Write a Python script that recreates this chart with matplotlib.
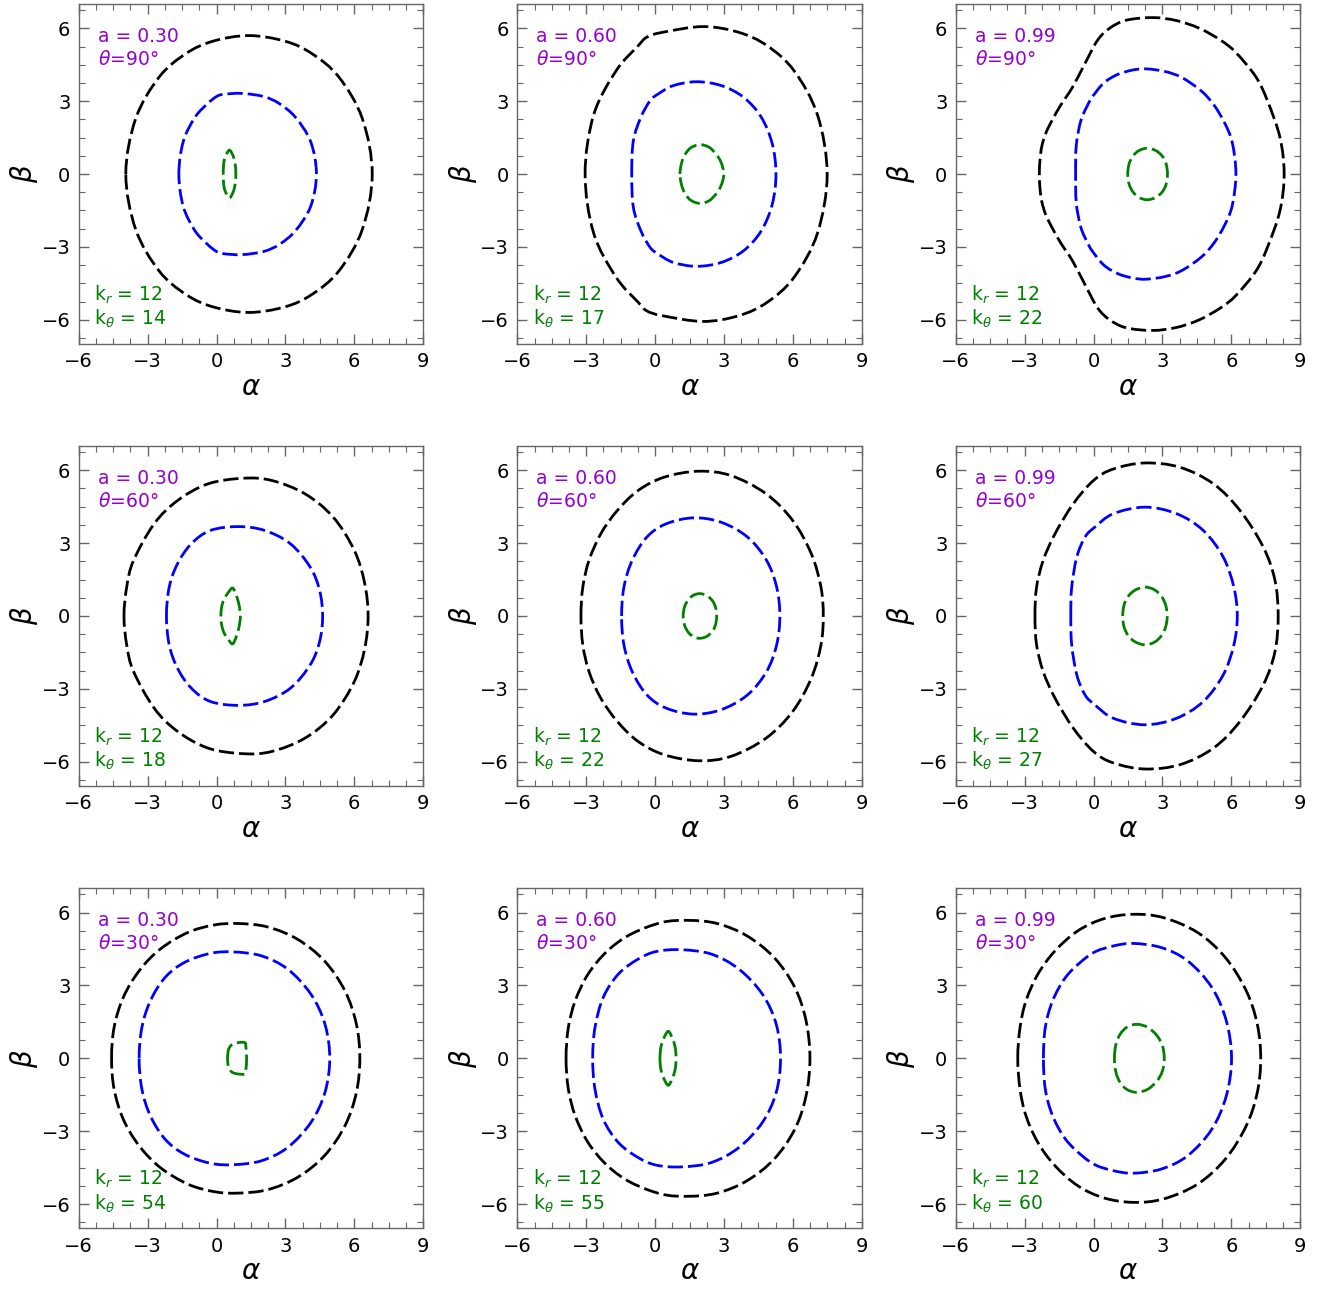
import matplotlib
matplotlib.use("Agg")
import matplotlib.pyplot as plt
from matplotlib.path import Path
from matplotlib.patches import PathPatch
import numpy as np

# Upper halves (beta >= 0) of each shadow outline,
# traced from the left end over the top to the right end.  Lower half = mirror.

spins = ["0.30", "0.60", "0.99"]
thetas = ["90", "60", "30"]
k_theta = [[14, 17, 22], [18, 22, 27], [54, 55, 60]]
k_r = 12

# ---- theta = 90 ----
a30_t90_black_x = [-3.95, -3.52, -2.50, -1.33, -0.15, 1.40, 2.98, 4.15, 5.33, 6.35, 6.78]
a30_t90_black_y = [0.0, 2.28, 3.99, 4.96, 5.47, 5.70, 5.47, 4.96, 3.99, 2.28, 0.0]
a30_t90_blue_x = [-1.64, -1.45, -0.95, -0.40, 0.00, 0.30, 1.10, 2.05, 2.75, 3.45, 4.10, 4.35]
a30_t90_blue_y = [0.0, 1.33, 2.32, 2.89, 3.19, 3.28, 3.32, 3.19, 2.89, 2.32, 1.33, 0.0]
a30_t90_green_x = [0.29, 0.33, 0.45, 0.58, 0.74, 0.82, 0.84]
a30_t90_green_y = [0.0, 0.55, 0.85, 0.98, 0.70, 0.35, 0.0]

a60_t90_black_x = [-3.05, -2.68, -1.70, -0.74, -0.37, 0.30, 2.09, 3.65, 4.88, 6.05, 7.07, 7.49]
a60_t90_black_y = [0.0, 2.43, 4.25, 5.28, 5.63, 5.83, 6.07, 5.83, 5.28, 4.25, 2.43, 0.0]
a60_t90_blue_x = [-1.02, -0.95, -0.62, -0.22, 0.14, 0.79, 1.80, 2.88, 3.85, 4.62, 5.10, 5.26]
a60_t90_blue_y = [0.0, 1.37, 2.34, 3.02, 3.30, 3.64, 3.80, 3.64, 3.16, 2.34, 1.24, 0.0]
a60_t90_green_x = [1.08, 1.15, 1.30, 1.55, 1.95, 2.35, 2.65, 2.87, 2.99]
a60_t90_green_y = [0.0, 0.45, 0.80, 1.08, 1.21, 1.10, 0.82, 0.48, 0.0]

a99_t90_black_x = [-2.36, -2.33, -2.25, -2.07, -1.78, -1.42, -0.93, -0.40, 0.17, 0.70, 1.42, 2.57, 3.60, 4.61, 5.55, 6.20, 7.07, 7.58, 8.12, 8.30]
a99_t90_black_y = [0.0, 0.60, 1.15, 1.70, 2.25, 2.85, 3.55, 4.50, 5.50, 6.00, 6.33, 6.44, 6.32, 6.00, 5.50, 5.00, 4.00, 3.00, 1.50, 0.0]
a99_t90_blue_x = [-0.78, -0.75, -0.55, -0.25, -0.04, 0.45, 1.05, 1.70, 2.29, 3.12, 3.85, 4.68, 5.23, 5.70, 6.04, 6.20]
a99_t90_blue_y = [0.0, 1.20, 2.20, 2.85, 3.19, 3.75, 4.10, 4.28, 4.33, 4.22, 3.97, 3.43, 2.86, 2.12, 1.30, 0.0]
a99_t90_green_x = [1.49, 1.55, 1.72, 1.97, 2.32, 2.70, 2.99, 3.16, 3.22]
a99_t90_green_y = [0.0, 0.42, 0.74, 0.96, 1.06, 0.97, 0.74, 0.42, 0.0]

# ---- theta = 60 ----
a30_t60_black_x = [-4.03, -3.91, -3.62, -2.72, -1.70, -0.37, 1.16, 2.40, 3.85, 5.08, 6.00, 6.45, 6.60]
a30_t60_black_y = [0.0, 1.20, 2.27, 3.79, 4.75, 5.44, 5.67, 5.58, 5.03, 4.07, 2.70, 1.35, 0.0]
a30_t60_blue_x = [-2.18, -2.06, -1.70, -1.10, -0.27, 0.94, 2.10, 3.22, 4.08, 4.49, 4.62]
a30_t60_blue_y = [0.0, 1.19, 2.15, 2.97, 3.52, 3.68, 3.52, 2.97, 2.01, 1.05, 0.0]
a30_t60_green_x = [0.19, 0.22, 0.32, 0.50, 0.70, 0.86, 0.98, 1.04]
a30_t60_green_y = [0.0, 0.35, 0.68, 0.95, 1.15, 0.85, 0.45, 0.0]

a60_t60_black_x = [-3.23, -3.15, -2.88, -2.37, -1.65, -0.75, 0.38, 1.88, 3.30, 4.83, 5.99, 6.80, 7.22, 7.32]
a60_t60_black_y = [0.0, 1.19, 2.29, 3.38, 4.34, 5.16, 5.71, 5.96, 5.78, 5.03, 3.93, 2.56, 1.19, 0.0]
a60_t60_blue_x = [-1.46, -1.36, -1.00, -0.36, 0.47, 1.66, 2.87, 4.02, 4.85, 5.29, 5.43]
a60_t60_blue_y = [0.0, 1.19, 2.29, 3.25, 3.79, 4.04, 3.86, 3.25, 2.29, 1.19, 0.0]
a60_t60_green_x = [1.22, 1.28, 1.45, 1.68, 1.95, 2.25, 2.50, 2.63, 2.68]
a60_t60_green_y = [0.0, 0.38, 0.68, 0.86, 0.92, 0.84, 0.62, 0.35, 0.0]

a99_t60_black_x = [-2.55, -2.48, -2.19, -1.68, -0.88, 0.00, 0.86, 2.24, 3.77, 5.22, 6.38, 7.39, 7.90, 8.04]
a99_t60_black_y = [0.0, 1.19, 2.29, 3.38, 4.62, 5.58, 6.05, 6.30, 6.12, 5.44, 4.34, 2.84, 1.47, 0.0]
a99_t60_blue_x = [-0.99, -0.95, -0.73, -0.37, 0.06, 0.86, 2.24, 3.62, 4.78, 5.65, 6.11, 6.26]
a99_t60_blue_y = [0.0, 1.19, 2.42, 3.25, 3.66, 4.21, 4.48, 4.21, 3.52, 2.42, 1.19, 0.0]
a99_t60_green_x = [1.27, 1.33, 1.52, 1.82, 2.24, 2.65, 2.95, 3.14, 3.21]
a99_t60_green_y = [0.0, 0.45, 0.82, 1.07, 1.19, 1.08, 0.82, 0.45, 0.0]

# ---- theta = 30 ----
a30_t30_black_x = [-4.57, -4.46, -4.06, -3.37, -2.46, -1.25, -0.10, 0.94, 2.22, 3.53, 4.70, 5.59, 6.09, 6.24]
a30_t30_black_y = [0.0, 1.27, 2.51, 3.60, 4.49, 5.18, 5.49, 5.55, 5.41, 4.90, 4.01, 2.78, 1.41, 0.0]
a30_t30_blue_x = [-3.37, -3.25, -2.88, -2.24, -1.39, -0.27, 0.73, 1.95, 3.10, 4.11, 4.72, 4.93]
a30_t30_blue_y = [0.0, 1.27, 2.37, 3.33, 3.95, 4.32, 4.38, 4.22, 3.67, 2.64, 1.41, 0.0]
a30_t30_green_x = [0.48, 0.52, 0.65, 0.85, 1.22, 1.28, 1.31]
a30_t30_green_y = [0.0, 0.35, 0.55, 0.63, 0.65, 0.45, 0.0]

a60_t30_black_x = [-3.88, -3.78, -3.48, -2.92, -2.08, -1.06, 0.28, 1.44, 2.70, 4.00, 5.18, 6.08, 6.57, 6.74]
a60_t30_black_y = [0.0, 1.27, 2.37, 3.47, 4.42, 5.11, 5.59, 5.68, 5.55, 5.04, 4.15, 2.92, 1.55, 0.0]
a60_t30_blue_x = [-2.72, -2.62, -2.26, -1.60, -0.75, 0.06, 1.15, 2.45, 3.65, 4.67, 5.27, 5.46]
a60_t30_blue_y = [0.0, 1.27, 2.51, 3.47, 4.08, 4.40, 4.47, 4.29, 3.67, 2.64, 1.41, 0.0]
a60_t30_green_x = [0.21, 0.24, 0.34, 0.57, 0.78, 0.88, 0.91]
a60_t30_green_y = [0.0, 0.40, 0.75, 1.11, 0.75, 0.40, 0.0]

a99_t30_black_x = [-3.30, -3.20, -2.94, -2.42, -1.68, -0.68, 0.46, 1.73, 3.05, 4.53, 5.74, 6.65, 7.13, 7.28]
a99_t30_black_y = [0.0, 1.27, 2.37, 3.47, 4.42, 5.25, 5.75, 5.93, 5.79, 5.18, 4.15, 2.78, 1.41, 0.0]
a99_t30_blue_x = [-2.18, -2.10, -1.78, -1.22, -0.50, 0.10, 0.88, 1.73, 2.95, 4.10, 5.15, 5.78, 6.01]
a99_t30_blue_y = [0.0, 1.27, 2.37, 3.33, 4.01, 4.40, 4.63, 4.73, 4.56, 4.01, 2.92, 1.55, 0.0]
a99_t30_green_x = [0.91, 0.97, 1.15, 1.45, 1.88, 2.35, 2.75, 3.00, 3.08]
a99_t30_green_y = [0.0, 0.55, 0.98, 1.28, 1.40, 1.28, 0.95, 0.52, 0.0]

panels = [
    [(a30_t90_black_x, a30_t90_black_y, a30_t90_blue_x, a30_t90_blue_y, a30_t90_green_x, a30_t90_green_y),
     (a60_t90_black_x, a60_t90_black_y, a60_t90_blue_x, a60_t90_blue_y, a60_t90_green_x, a60_t90_green_y),
     (a99_t90_black_x, a99_t90_black_y, a99_t90_blue_x, a99_t90_blue_y, a99_t90_green_x, a99_t90_green_y)],
    [(a30_t60_black_x, a30_t60_black_y, a30_t60_blue_x, a30_t60_blue_y, a30_t60_green_x, a30_t60_green_y),
     (a60_t60_black_x, a60_t60_black_y, a60_t60_blue_x, a60_t60_blue_y, a60_t60_green_x, a60_t60_green_y),
     (a99_t60_black_x, a99_t60_black_y, a99_t60_blue_x, a99_t60_blue_y, a99_t60_green_x, a99_t60_green_y)],
    [(a30_t30_black_x, a30_t30_black_y, a30_t30_blue_x, a30_t30_blue_y, a30_t30_green_x, a30_t30_green_y),
     (a60_t30_black_x, a60_t30_black_y, a60_t30_blue_x, a60_t30_blue_y, a60_t30_green_x, a60_t30_green_y),
     (a99_t30_black_x, a99_t30_black_y, a99_t30_blue_x, a99_t30_blue_y, a99_t30_green_x, a99_t30_green_y)],
]


def outline_path(xs, ys):
    """Upper half + mirrored lower half, drawn as a closed smooth Bezier path
    through the read points (Catmull-Rom control points)."""
    xs = np.asarray(xs, float)
    ys = np.asarray(ys, float)
    x = np.concatenate([xs, xs[-2:0:-1]])
    y = np.concatenate([ys, -ys[-2:0:-1]])
    p = np.column_stack([x, y])
    n = len(p)
    verts = [p[0]]
    codes = [Path.MOVETO]
    for k in range(n):
        p0, p1, p2, p3 = p[k - 1], p[k], p[(k + 1) % n], p[(k + 2) % n]
        verts += [p1 + (p2 - p0) / 6.0, p2 - (p3 - p1) / 6.0, p2]
        codes += [Path.CURVE4] * 3
    return Path(verts, codes)


fig = plt.figure(figsize=(13.3, 12.9), dpi=100)

lefts = [0.0592, 0.389, 0.7186]
bottoms = [0.7333, 0.3907, 0.0478]
w, h = 0.259, 0.2636

for i in range(3):
    for j in range(3):
        ax = fig.add_axes([lefts[j], bottoms[i], w, h])
        bx, by, ux, uy, gx, gy = panels[i][j]
        for cx, cy, col in ((bx, by, "black"), (ux, uy, "blue"), (gx, gy, "green")):
            ax.add_patch(PathPatch(outline_path(cx, cy), fill=False, edgecolor=col,
                                   lw=2.0, ls=(0, (5.5, 1.8))))

        ax.set_xlim(-6, 9)
        ax.set_ylim(-7, 7)
        ax.set_xticks([-6, -3, 0, 3, 6, 9])
        ax.set_yticks([-6, -3, 0, 3, 6])
        ax.set_xticks(np.arange(-6, 9.01, 0.75), minor=True)
        ax.set_yticks(np.arange(-6.75, 7.01, 0.75), minor=True)
        ax.tick_params(which="both", direction="in", top=True, right=True,
                       color="#666666", labelsize=14, pad=6)
        ax.tick_params(which="major", length=7, width=1)
        ax.tick_params(which="minor", length=4, width=0.8)
        for s in ax.spines.values():
            s.set_color("#666666")
            s.set_linewidth(1.0)
        ax.set_xlabel(r"$\alpha$", fontsize=20, labelpad=1)
        ax.set_ylabel(r"$\beta$", fontsize=20, labelpad=1)

        ax.text(0.055, 0.904, "a = " + spins[j], transform=ax.transAxes,
                color="darkviolet", fontsize=13.5, ha="left", va="center")
        ax.text(0.055, 0.838, r"$\theta$=" + thetas[i] + "°", transform=ax.transAxes,
                color="darkviolet", fontsize=13.5, ha="left", va="center")
        ax.text(0.045, 0.146, r"k$_r$ = %d" % k_r, transform=ax.transAxes,
                color="green", fontsize=13.5, ha="left", va="center")
        ax.text(0.045, 0.073, r"k$_\theta$ = %d" % k_theta[i][j], transform=ax.transAxes,
                color="green", fontsize=13.5, ha="left", va="center")

fig.savefig("out.png", dpi=100)
